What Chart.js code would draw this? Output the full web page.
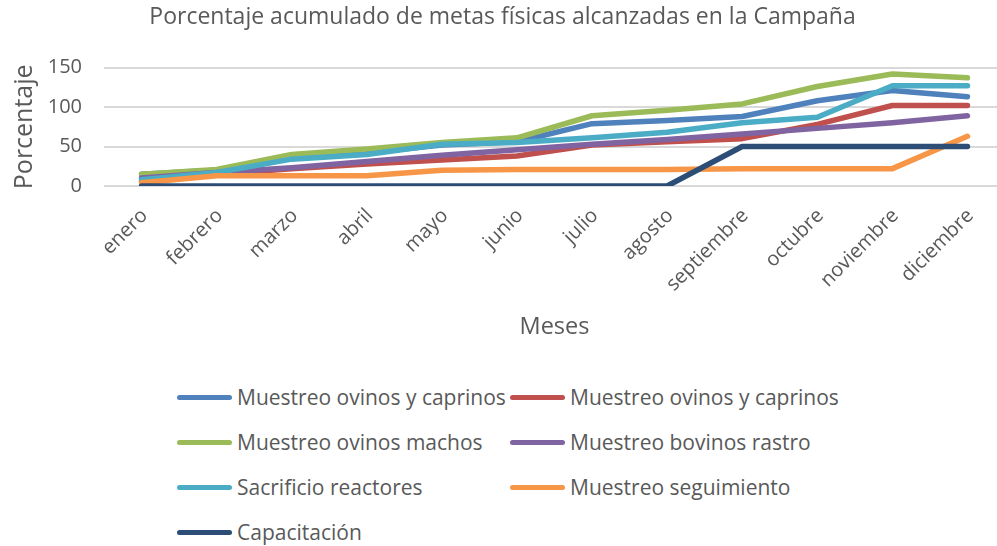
<!DOCTYPE html>
<html lang="es">
<head>
<meta charset="utf-8">
<script src="https://cdn.jsdelivr.net/npm/chart.js@4.4.1/dist/chart.umd.min.js"></script>
<style>
    html, body { margin: 0; padding: 0; background: #fff; overflow: hidden; }
    #wrap { position: relative; width: 1005px; height: 345px; }
    #legend {
        position: absolute; left: 177px; top: 381px;
        display: grid; grid-template-columns: 333px 330px; grid-auto-rows: 45px;
        font-family: "Open Sans", sans-serif; font-size: 21px; color: #595959;
    }
    .item { display: flex; align-items: center; white-space: nowrap; height: 32px; }
    .swatch { width: 55px; height: 5px; border-radius: 3px; margin-right: 5px; flex: none; }
</style>
</head>
<body>
<div id="wrap"><canvas id="metasChart"></canvas></div>
<div id="legend"></div>

<script>
// Datos
const meses = ["enero", "febrero", "marzo", "abril", "mayo", "junio", "julio", "agosto", "septiembre", "octubre", "noviembre", "diciembre"];
const ovinosCaprinosA = [15, 20, 35, 42, 52, 56, 79, 83, 88, 108, 121, 113];
const ovinosCaprinosB = [6, 15, 22, 28, 33, 38, 52, 56, 60, 78, 102, 102];
const ovinosMachos = [15, 21, 40, 47, 55, 61, 89, 96, 104, 126, 142, 137];
const bovinosRastro = [10, 17, 23, 31, 39, 46, 53, 59, 66, 73, 80, 89];
const sacrificioReactores = [8, 17, 34, 40, 53, 55, 61, 68, 80, 87, 127, 127];
const seguimiento = [4, 13, 13, 13, 20, 21, 21, 21, 22, 22, 22, 63];
const capacitacion = [0, 0, 0, 0, 0, 0, 0, 0, 50, 50, 50, 50];
const yTicks = [0, 50, 100, 150];

const series = [
    { label: "Muestreo ovinos y caprinos", data: ovinosCaprinosA, color: "#4F81BD" },
    { label: "Muestreo ovinos y caprinos", data: ovinosCaprinosB, color: "#C0504D" },
    { label: "Muestreo ovinos machos", data: ovinosMachos, color: "#9BBB59" },
    { label: "Muestreo bovinos rastro", data: bovinosRastro, color: "#8064A2" },
    { label: "Sacrificio reactores", data: sacrificioReactores, color: "#4BACC6" },
    { label: "Muestreo seguimiento", data: seguimiento, color: "#F79646" },
    { label: "Capacitación", data: capacitacion, color: "#2C4D75" },
];

document.addEventListener('DOMContentLoaded', function () {
    const font = "'Open Sans', sans-serif";
    const grey = "#595959";

    new Chart(document.getElementById('metasChart'), {
        type: 'line',
        data: {
            labels: meses,
            datasets: series.map((s, i) => ({
                label: s.label,
                data: s.data,
                borderColor: s.color,
                backgroundColor: s.color,
                borderWidth: 5.5,
                borderCapStyle: 'round',
                borderJoinStyle: 'round',
                pointRadius: 0,
                tension: 0,
                order: series.length - i,
            })),
        },
        options: {
            responsive: true,
            maintainAspectRatio: false,
            animation: false,
            layout: { padding: { top: 4, left: 0, right: 0, bottom: 2 } },
            plugins: {
                legend: { display: false },
                tooltip: { enabled: false },
                title: {
                    display: true,
                    text: "Porcentaje acumulado de metas físicas alcanzadas en la Campaña",
                    color: grey,
                    font: { family: font, size: 23, weight: 'normal' },
                    padding: { top: 0, bottom: 36 },
                },
            },
            scales: {
                x: {
                    offset: true,
                    afterFit: axis => { axis.height = 157; },
                    grid: { display: false },
                    border: { display: false },
                    ticks: {
                        color: grey,
                        font: { family: font, size: 20 },
                        minRotation: 45,
                        maxRotation: 45,
                        padding: 10,
                        labelOffset: 3,
                    },
                    title: {
                        display: true,
                        text: "Meses",
                        color: grey,
                        font: { family: font, size: 23.5 },
                        padding: { top: 0, bottom: 2 },
                    },
                },
                y: {
                    min: 0,
                    max: 150,
                    afterFit: axis => { axis.width = 104; },
                    afterBuildTicks: axis => { axis.ticks = yTicks.map(v => ({ value: v })); },
                    grid: { color: "#D9D9D9", lineWidth: 2, drawTicks: false },
                    border: { display: false },
                    ticks: {
                        color: grey,
                        font: { family: font, size: 20 },
                        padding: 22,
                    },
                    title: {
                        display: true,
                        text: "Porcentaje",
                        color: grey,
                        font: { family: font, size: 25 },
                        padding: { top: 10, bottom: 0 },
                    },
                },
            },
        },
    });

    // Leyenda en dos columnas, como en el original
    const legend = document.getElementById('legend');
    series.forEach(s => {
        const item = document.createElement('div');
        item.className = 'item';
        item.innerHTML = '<span class="swatch" style="background:' + s.color + '"></span><span>' + s.label + '</span>';
        legend.appendChild(item);
    });
});
</script>
</body>
</html>
